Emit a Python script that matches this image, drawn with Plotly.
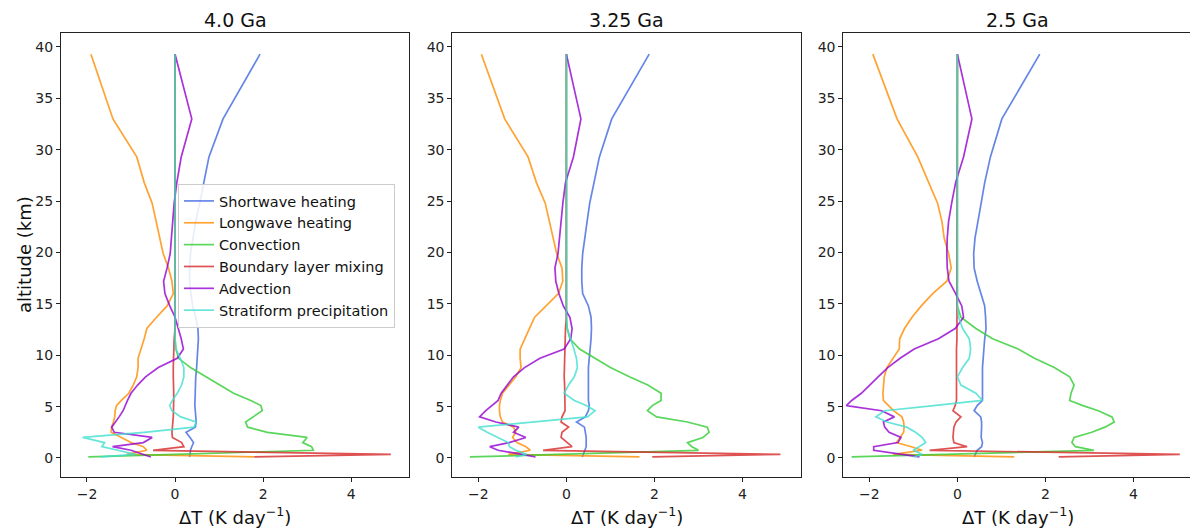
import plotly.graph_objects as go

# Model levels (km), top to bottom
ALT_KM = [39.3, 33.0, 29.3, 26.8, 24.8, 23.0, 21.4, 19.9, 18.5, 17.2, 16.0, 14.8,
          13.7, 12.6, 11.6, 10.6, 9.7, 8.8, 7.9, 7.1, 6.3, 5.6, 5.1, 4.6, 4.0, 3.5,
          3.0, 2.5, 2.0, 1.5, 1.1, 0.75, 0.35, 0.1]

SERIES = ["Shortwave heating", "Longwave heating", "Convection",
          "Boundary layer mixing", "Advection", "Stratiform precipitation"]
COLORS = ["royalblue", "darkorange", "limegreen", "#d62728", "darkviolet", "turquoise"]
PANEL_TITLES = ["4.0 Ga", "3.25 Ga", "2.5 Ga"]
X_TICKS = [-2, 0, 2, 4]
Y_TICKS = [0, 5, 10, 15, 20, 25, 30, 35, 40]

# ---- 4.0 Ga heating-rate anomalies (K/day) ----
sw_4p0 = [1.93, 1.09, 0.77, 0.66, 0.56, 0.47, 0.40, 0.35, 0.33, 0.33, 0.36, 0.40,
          0.47, 0.52, 0.53, 0.52, 0.50, 0.49, 0.47, 0.46, 0.45, 0.45, 0.45, 0.46,
          0.47, 0.48, 0.46, 0.25, 0.34, 0.42, 0.38, 0.35, 0.34, 0.33]
lw_4p0 = [-1.91, -1.41, -0.87, -0.70, -0.52, -0.43, -0.35, -0.27, -0.15, -0.07, -0.04, -0.18,
          -0.42, -0.64, -0.70, -0.78, -0.84, -0.84, -0.87, -0.95, -1.05, -1.22, -1.33, -1.36,
          -1.37, -1.40, -1.44, -1.45, -1.22, -1.00, -0.72, -0.64, -1.10, 1.80]
conv_4p0 = [0.0, 0.0, 0.0, 0.0, 0.0, 0.0, 0.0, 0.0, 0.0, 0.0, 0.0, 0.0,
            0.0, 0.0, 0.0, 0.02, 0.08, 0.35, 0.70, 1.00, 1.33, 1.72, 1.95, 1.98,
            1.78, 1.60, 1.65, 2.10, 3.00, 2.90, 3.10, 3.14, 0.00, -1.97]
bl_4p0 = [0.0, 0.0, 0.0, 0.0, 0.0, 0.0, 0.0, 0.0, 0.0, 0.0, 0.0, 0.0,
          0.0, 0.0, -0.02, -0.03, -0.04, -0.04, -0.04, -0.03, -0.03, -0.03, -0.03, -0.03,
          -0.04, -0.05, -0.06, -0.07, -0.06, 0.15, 0.20, -0.50, 4.90, 1.80]
adv_4p0 = [0.0, 0.38, 0.14, 0.04, -0.02, -0.05, -0.08, -0.11, -0.18, -0.26, -0.23, -0.12,
           0.0, 0.08, 0.14, 0.19, 0.05, -0.38, -0.67, -0.85, -1.00, -1.08, -1.13, -1.18,
           -1.27, -1.35, -1.44, -1.38, -0.52, -0.72, -1.42, -1.00, -0.70, -0.55]
strat_4p0 = [0.0, 0.0, 0.0, 0.0, 0.0, 0.0, 0.0, 0.0, 0.0, 0.0, 0.0, 0.0,
             0.0, 0.0, 0.0, 0.02, 0.12, 0.20, 0.20, 0.15, 0.05, -0.06, -0.12, -0.07,
             0.13, 0.48, 0.43, -0.70, -2.10, -1.60, -1.66, -1.30, -0.90, -1.70]

# ---- 3.25 Ga ----
sw_3p25 = [1.88, 1.03, 0.75, 0.62, 0.53, 0.47, 0.42, 0.37, 0.35, 0.35, 0.37, 0.50,
           0.56, 0.57, 0.56, 0.54, 0.52, 0.50, 0.50, 0.50, 0.50, 0.50, 0.52, 0.50,
           0.43, 0.23, 0.41, 0.43, 0.45, 0.45, 0.45, 0.42, 0.38, 0.36]
lw_3p25 = [-1.93, -1.40, -0.87, -0.68, -0.48, -0.38, -0.30, -0.22, -0.10, -0.08, -0.18, -0.45,
           -0.72, -0.84, -0.95, -1.05, -1.05, -1.03, -1.15, -1.30, -1.45, -1.50, -1.52, -1.52,
           -1.50, -1.45, -1.20, -1.15, -1.22, -1.12, -0.92, -0.82, -1.32, 1.66]
conv_3p25 = [0.0, 0.0, 0.0, 0.0, 0.0, 0.0, 0.0, 0.0, 0.0, 0.0, 0.0, 0.0,
             0.0, 0.02, 0.08, 0.30, 0.65, 1.00, 1.43, 1.85, 2.15, 2.15, 1.95, 1.84,
             2.05, 2.75, 3.20, 3.24, 3.10, 2.75, 2.85, 3.00, -0.20, -2.19]
bl_3p25 = [0.0, 0.0, 0.0, 0.0, 0.0, 0.0, 0.0, 0.0, 0.0, 0.0, 0.0, 0.0,
           0.0, -0.02, -0.03, -0.03, -0.04, -0.05, -0.05, -0.04, -0.04, -0.03, -0.03, -0.03,
           -0.10, -0.12, 0.05, -0.10, -0.12, 0.03, 0.13, -0.53, 4.86, 1.95]
adv_3p25 = [0.0, 0.33, 0.16, -0.02, -0.08, -0.12, -0.15, -0.19, -0.26, -0.24, -0.17, -0.07,
            0.08, 0.13, 0.10, -0.05, -0.60, -0.95, -1.20, -1.35, -1.48, -1.55, -1.70, -1.83,
            -1.97, -1.60, -1.08, -1.20, -0.92, -1.30, -1.74, -1.55, -1.00, -0.70]
strat_3p25 = [0.0, 0.0, 0.0, 0.0, 0.0, 0.0, 0.0, 0.0, 0.0, 0.0, 0.0, 0.0,
              0.0, 0.02, 0.10, 0.17, 0.23, 0.25, 0.18, 0.05, -0.05, 0.18, 0.45, 0.65,
              0.48, -0.83, -2.00, -1.80, -1.55, -1.32, -1.29, -1.15, -0.90, -1.15]

# ---- 2.5 Ga ----
sw_2p5 = [1.87, 1.01, 0.75, 0.62, 0.54, 0.46, 0.40, 0.37, 0.38, 0.45, 0.54, 0.62,
          0.64, 0.65, 0.62, 0.60, 0.58, 0.57, 0.57, 0.57, 0.57, 0.57, 0.45, 0.38,
          0.53, 0.55, 0.55, 0.55, 0.54, 0.57, 0.55, 0.45, 0.40, 0.38]
lw_2p5 = [-1.92, -1.37, -0.90, -0.65, -0.45, -0.35, -0.30, -0.20, -0.14, -0.24, -0.56, -0.82,
          -1.03, -1.20, -1.31, -1.32, -1.47, -1.60, -1.66, -1.68, -1.69, -1.68, -1.56, -1.45,
          -1.26, -1.22, -1.21, -1.22, -1.30, -1.38, -1.05, -0.80, -1.46, 1.29]
conv_2p5 = [0.0, 0.0, 0.0, 0.0, 0.0, 0.0, 0.0, 0.0, 0.0, 0.0, 0.0, 0.0,
            0.08, 0.42, 0.80, 1.38, 1.75, 2.20, 2.55, 2.65, 2.58, 2.55, 2.85, 3.20,
            3.51, 3.56, 3.35, 3.05, 2.65, 2.60, 2.68, 3.10, -0.28, -2.40]
bl_2p5 = [0.0, 0.0, 0.0, 0.0, 0.0, 0.0, 0.0, 0.0, 0.0, 0.0, 0.0, 0.0,
          0.0, 0.0, -0.01, -0.02, -0.02, -0.02, -0.02, -0.02, -0.02, -0.02, -0.05, -0.10,
          0.08, -0.03, -0.08, -0.09, -0.10, -0.08, 0.22, -0.63, 5.05, 2.30]
adv_2p5 = [0.0, 0.33, 0.14, -0.04, -0.13, -0.20, -0.23, -0.24, -0.23, -0.19, -0.04, 0.10,
           0.14, -0.05, -0.43, -0.98, -1.30, -1.58, -1.80, -2.00, -2.18, -2.40, -2.52, -1.72,
           -1.43, -1.68, -1.65, -1.55, -1.28, -1.35, -1.90, -1.90, -1.30, -0.86]
strat_2p5 = [0.0, 0.0, 0.0, 0.0, 0.0, 0.0, 0.0, 0.0, 0.0, 0.0, 0.0, 0.0,
             0.03, 0.12, 0.27, 0.30, 0.27, 0.12, 0.0, 0.08, 0.42, 0.57, -0.54, -1.65,
             -1.85, -1.60, -1.15, -0.95, -0.80, -0.72, -0.87, -1.00, -0.80, -1.00]

PANEL_DATA = [
    [sw_4p0, lw_4p0, conv_4p0, bl_4p0, adv_4p0, strat_4p0],
    [sw_3p25, lw_3p25, conv_3p25, bl_3p25, adv_3p25, strat_3p25],
    [sw_2p5, lw_2p5, conv_2p5, bl_2p5, adv_2p5, strat_2p5],
]

# ---- layout geometry (pixels) ----
W, H = 1190, 530
X_LO, X_HI = -2.59, 5.32
PANEL_PX = [(61.0, 409.3), (452.3, 800.7), (843.3, 1191.7)]
BOX_TOP, BOX_BOTTOM = 33.0, 477.0
Y_RANGE = [-1.85, 41.36]

fig = go.Figure()

axis_common = dict(
    showline=True, linecolor="#222", linewidth=1,
    ticks="outside", ticklen=4, tickwidth=1, tickcolor="#222",
    showgrid=False, zeroline=False,
    tickfont=dict(family="DejaVu Sans", size=14, color="#222"),
)

annotations = []
y_dom = [1 - BOX_BOTTOM / H, 1 - BOX_TOP / H]

for p, (title, values) in enumerate(zip(PANEL_TITLES, PANEL_DATA)):
    x0, x1 = PANEL_PX[p]
    scale = (x1 - x0) / (X_HI - X_LO)
    right_px = min(x1, W)
    x_hi = X_LO + (right_px - x0) / scale
    clipped = right_px < x1
    suffix = "" if p == 0 else str(p + 1)

    fig.update_layout({
        "xaxis" + suffix: dict(axis_common, domain=[x0 / W, right_px / W],
                               range=[X_LO, x_hi], tickvals=X_TICKS,
                               mirror=True, anchor="y" + suffix),
        "yaxis" + suffix: dict(axis_common, domain=y_dom, range=Y_RANGE,
                               tickvals=Y_TICKS, mirror=not clipped,
                               anchor="x" + suffix),
    })

    for name, color, xs in zip(SERIES, COLORS, values):
        fig.add_trace(go.Scatter(
            x=xs, y=ALT_KM, mode="lines", name=name,
            line=dict(color=color, width=1.7), opacity=0.8,
            showlegend=(p == 0),
            xaxis="x" + suffix, yaxis="y" + suffix,
        ))

    cx = (x0 + x1) / 2 / W
    annotations.append(dict(text=title, x=cx, y=1 - 20 / H, xref="paper", yref="paper",
                            showarrow=False, xanchor="center", yanchor="middle",
                            font=dict(family="DejaVu Sans", size=19, color="#111")))
    annotations.append(dict(text="ΔT (K day<sup>−1</sup>)", x=cx, y=1 - 516 / H,
                            xref="paper", yref="paper", showarrow=False,
                            xanchor="center", yanchor="middle",
                            font=dict(family="DejaVu Sans", size=18, color="#111")))

annotations.append(dict(text="altitude (km)", x=24 / W, y=(y_dom[0] + y_dom[1]) / 2,
                        xref="paper", yref="paper", showarrow=False, textangle=-90,
                        xanchor="center", yanchor="middle",
                        font=dict(family="DejaVu Sans", size=18, color="#111")))

fig.update_layout(
    width=W, height=H,
    margin=dict(l=0, r=0, t=0, b=0),
    paper_bgcolor="white", plot_bgcolor="white",
    annotations=annotations,
    legend=dict(x=178 / W, y=1 - 184 / H, xanchor="left", yanchor="top",
                tracegroupgap=0,
                bgcolor="rgba(255,255,255,0.85)", bordercolor="#ccc", borderwidth=1,
                font=dict(family="DejaVu Sans", size=14.5, color="#111")),
    font=dict(family="DejaVu Sans"),
)

fig.write_html("out.html")
